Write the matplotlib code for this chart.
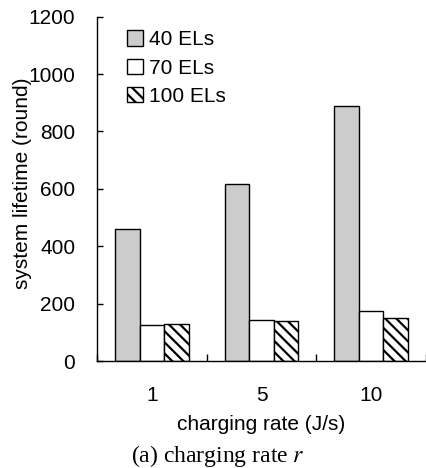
import matplotlib
matplotlib.use("Agg")
import matplotlib.pyplot as plt
import numpy as np

# Data
rates = ["1", "5", "10"]
series_names = ["40 ELs", "70 ELs", "100 ELs"]
lifetime_40 = [460, 617, 890]
lifetime_70 = [127, 142, 173]
lifetime_100 = [128, 139, 149]
y_ticks = [0, 200, 400, 600, 800, 1000, 1200]

plt.rcParams["font.family"] = ["Liberation Sans", "DejaVu Sans"]
plt.rcParams["hatch.linewidth"] = 1.6

fig = plt.figure(figsize=(4.27, 4.68), dpi=100)
ax = fig.add_axes([0.228, 0.2286, 0.769, 0.7357])

x = np.arange(len(rates))
w = 0.223
styles = [
    dict(facecolor="#cccccc", edgecolor="black", hatch=None),
    dict(facecolor="white", edgecolor="black", hatch=None),
    dict(facecolor="white", edgecolor="black", hatch="\\\\\\"),
]
for i, (vals, name, st) in enumerate(zip([lifetime_40, lifetime_70, lifetime_100], series_names, styles)):
    ax.bar(x + (i - 1) * w, vals, width=w, label=name, linewidth=1.0, **st)

ax.set_xlim(-0.5, len(rates) - 0.5)
ax.set_ylim(0, 1200)
ax.set_yticks(y_ticks)
ax.set_xticks(x)
ax.set_xticklabels(rates)
ax.set_xticks(np.arange(len(rates) + 1) - 0.5, minor=True)

for s in ["top", "right"]:
    ax.spines[s].set_visible(False)
for s in ["left", "bottom"]:
    ax.spines[s].set_linewidth(1.0)

ax.tick_params(axis="y", direction="in", length=4, width=1, labelsize=15, pad=16)
ax.tick_params(axis="x", which="major", length=0, labelsize=15, pad=18)
ax.tick_params(axis="x", which="minor", direction="in", length=5, width=1)

ax.set_ylabel("system lifetime (round)", fontsize=15)
ax.yaxis.set_label_coords(-0.2, 0.515)
ax.set_xlabel("charging rate (J/s)", fontsize=15, labelpad=7)

leg = ax.legend(loc="upper left", bbox_to_anchor=(0.065, 0.985), frameon=False,
                fontsize=15, handlelength=0.75, handleheight=0.75,
                handletextpad=0.3, labelspacing=0.45, borderaxespad=0.0)

fig.text(0.51, 0.026, "(a) charging rate $r$", ha="center", va="center",
         fontsize=17, family=["Liberation Serif", "DejaVu Serif"],
         math_fontfamily="stix")

fig.savefig("out.png", dpi=100)
